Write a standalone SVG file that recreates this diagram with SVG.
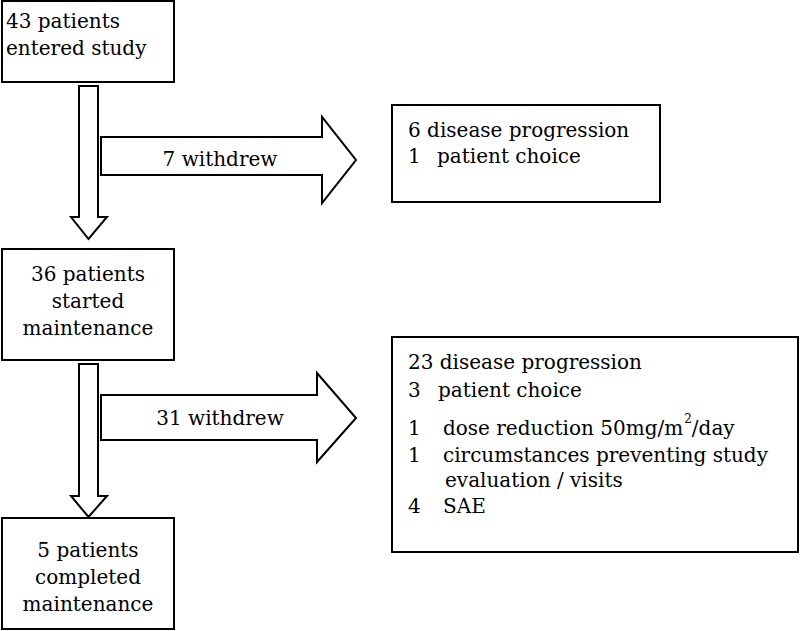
<svg xmlns="http://www.w3.org/2000/svg" width="800" height="631" viewBox="0 0 800 631">
<style>
.box{fill:#fff;stroke:#000;stroke-width:2}
.arr{fill:#fff;stroke:#000;stroke-width:2;stroke-linejoin:miter}
text{font-family:"DejaVu Serif","Liberation Serif",serif;font-size:20px;fill:#000}
.c{text-anchor:middle}
.sup{font-size:12px}
</style>
<rect x="0" y="0" width="800" height="631" fill="#fff"/>
<g id="connectors">
<path class="arr" d="M79,86 H98 V217 H107 L88.5,239 L71,217 H79 Z"/>
<path class="arr" d="M101,137 H322 V117 L356,160 L322,203 V175 H101 Z"/>
<path class="arr" d="M79,364 H98 V496 H107 L88.5,517 L71,496 H79 Z"/>
<path class="arr" d="M101,395 H317 V373 L356,418 L317,462 V440 H101 Z"/>
<text class="c" x="220" y="166">7 withdrew</text>
<text class="c" x="220" y="425">31 withdrew</text>
</g>
<g id="n1">
<rect class="box" x="2" y="1" width="172" height="81"/>
<text x="6" y="28">43 patients</text>
<text x="6" y="55">entered study</text>
</g>
<g id="n2">
<rect class="box" x="392" y="105" width="268" height="97"/>
<text x="408" y="137">6 disease progression</text>
<text x="408" y="163">1</text>
<text x="437" y="163">patient choice</text>
</g>
<g id="n3">
<rect class="box" x="2" y="249" width="172" height="111"/>
<text class="c" x="88" y="281">36 patients</text>
<text class="c" x="88" y="308">started</text>
<text class="c" x="88" y="335">maintenance</text>
</g>
<g id="n4">
<rect class="box" x="392" y="337" width="406" height="215"/>
<text x="408" y="369">23 disease progression</text>
<text x="408" y="397">3</text>
<text x="438" y="397">patient choice</text>
<text x="408" y="435">1</text>
<text x="443" y="435">dose reduction 50mg/m<tspan class="sup" dx="1" dy="-12">2</tspan><tspan dy="12">/day</tspan></text>
<text x="408" y="462">1</text>
<text x="443" y="462">circumstances preventing study</text>
<text x="445" y="487">evaluation / visits</text>
<text x="408" y="513">4</text>
<text x="443" y="513">SAE</text>
</g>
<g id="n5">
<rect class="box" x="2" y="518" width="172" height="111"/>
<text class="c" x="88" y="557">5 patients</text>
<text class="c" x="88" y="584">completed</text>
<text class="c" x="88" y="611">maintenance</text>
</g>
</svg>
